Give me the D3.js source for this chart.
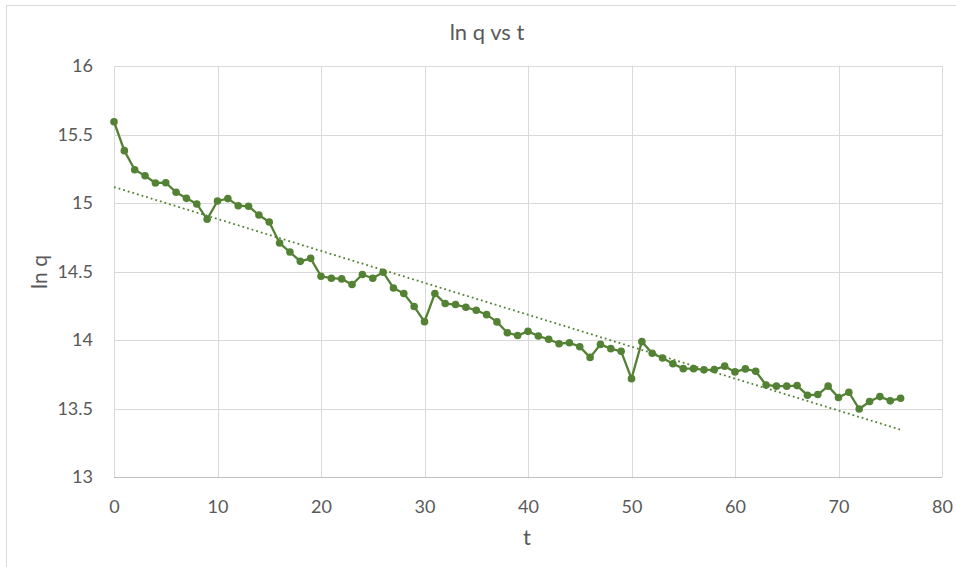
<!DOCTYPE html>
<html><head><meta charset="utf-8">
<script src="https://cdn.jsdelivr.net/npm/d3@7"></script>
<style>body{margin:0;background:#fff;}text{font-family:Lato,"Open Sans",sans-serif;fill:#595959;}</style>
</head><body><svg id="c" width="956" height="567"></svg>
<script>
const title = "ln q vs t";
const xLabel = "t";
const yLabel = "ln q";
const xTicks = [0,10,20,30,40,50,60,70,80];
const yTicks = [13,13.5,14,14.5,15,15.5,16];
const tValues = d3.range(0,77);
const lnq = [15.593,15.382,15.243,15.199,15.146,15.148,15.078,15.034,14.993,14.881,
15.015,15.032,14.98,14.976,14.912,14.861,14.708,14.642,14.574,14.596,
14.465,14.451,14.446,14.405,14.478,14.451,14.495,14.38,14.339,14.244,
14.134,14.339,14.266,14.259,14.239,14.217,14.185,14.132,14.053,14.033,
14.063,14.029,14.005,13.973,13.98,13.951,13.873,13.968,13.937,13.917,
13.718,13.988,13.903,13.869,13.827,13.791,13.791,13.782,13.784,13.809,
13.767,13.789,13.772,13.672,13.663,13.663,13.667,13.597,13.602,13.663,
13.58,13.619,13.496,13.551,13.587,13.556,13.575];

const svg = d3.select("#c");
const m = {l:114, r:942, t:66, b:477};
const x = d3.scaleLinear().domain([0,80]).range([m.l,m.r]);
const y = d3.scaleLinear().domain([13,16]).range([m.b,m.t]);

svg.append("rect").attr("x",6.5).attr("y",5.5).attr("width",960).attr("height",570)
  .attr("fill","#fff").attr("stroke","#d9d9d9");

// gridlines
svg.append("g").selectAll("line").data(yTicks).join("line")
  .attr("x1",m.l).attr("x2",m.r).attr("y1",d=>Math.round(y(d))+0.5).attr("y2",d=>Math.round(y(d))+0.5)
  .attr("stroke","#d9d9d9").attr("stroke-width",1);
svg.append("g").selectAll("line").data(xTicks).join("line")
  .attr("y1",m.t).attr("y2",m.b).attr("x1",d=>Math.round(x(d))+0.5).attr("x2",d=>Math.round(x(d))+0.5)
  .attr("stroke","#d9d9d9").attr("stroke-width",1);
svg.append("line").attr("x1",m.l).attr("x2",m.r).attr("y1",Math.round(y(13))+0.5).attr("y2",Math.round(y(13))+0.5)
  .attr("stroke","#bfbfbf");

// axes labels via d3 axes
const xa = svg.append("g").attr("transform",`translate(0,${m.b})`)
  .call(d3.axisBottom(x).tickValues(xTicks).tickSize(0).tickPadding(23));
const ya = svg.append("g").attr("transform",`translate(${m.l},0)`)
  .call(d3.axisLeft(y).tickValues(yTicks).tickSize(0).tickPadding(21).tickFormat(d3.format("")));
[xa,ya].forEach(g=>{g.select(".domain").remove();g.selectAll("text").attr("font-size",18).attr("fill","#595959")
  .style("font-family",'Lato,"Open Sans",sans-serif');});

// trendline (least squares)
const n = tValues.length;
const mx = d3.mean(tValues), my = d3.mean(lnq);
let sxy=0,sxx=0; for(let i=0;i<n;i++){sxy+=(tValues[i]-mx)*(lnq[i]-my);sxx+=(tValues[i]-mx)**2;}
const slope = sxy/sxx, icpt = my - slope*mx;
svg.append("line").attr("x1",x(0)).attr("x2",x(76)).attr("y1",y(icpt)).attr("y2",y(icpt+slope*76))
  .attr("stroke","#548235").attr("stroke-width",1.8).attr("stroke-dasharray","1.8 3");

const data = tValues.map((t,i)=>({t,v:lnq[i]}));
svg.append("path").datum(data).attr("fill","none").attr("stroke","#548235").attr("stroke-width",2.3)
  .attr("d",d3.line().x(d=>x(d.t)).y(d=>y(d.v)));
svg.append("g").selectAll("circle").data(data).join("circle")
  .attr("cx",d=>x(d.t)).attr("cy",d=>y(d.v)).attr("r",3.8).attr("fill","#548235");

svg.append("text").attr("x",487).attr("y",40).attr("text-anchor","middle").attr("font-size",22).text(title);
svg.append("text").attr("x",527).attr("y",545).attr("text-anchor","middle").attr("font-size",22).text(xLabel);
svg.append("text").attr("transform","translate(47,272) rotate(-90)").attr("text-anchor","middle").attr("font-size",21).text(yLabel);
</script></body></html>
